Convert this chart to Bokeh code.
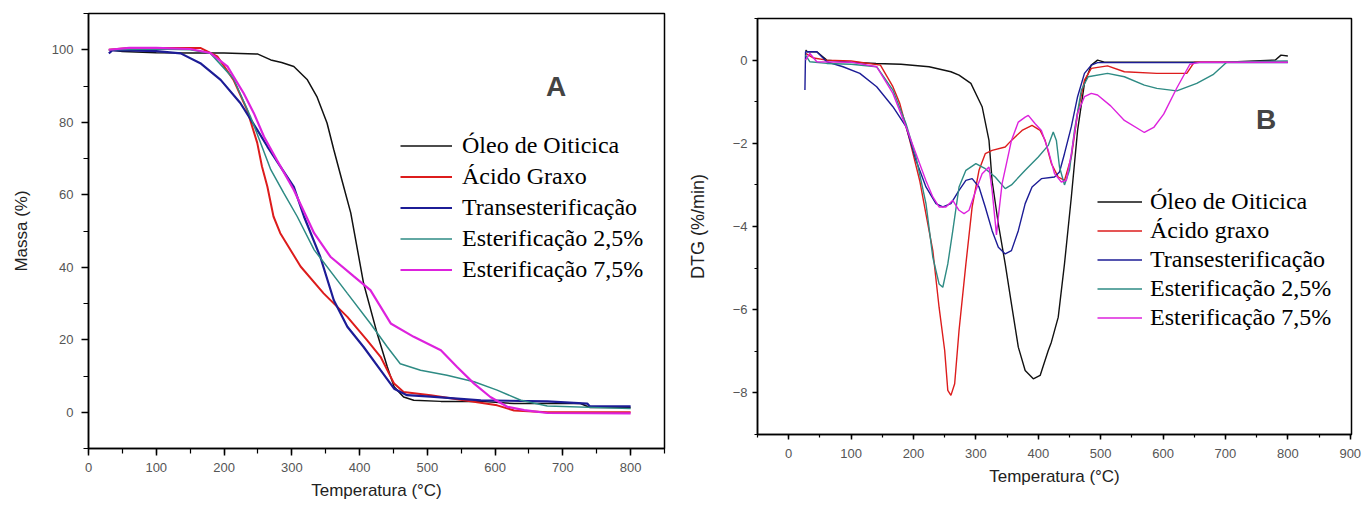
from bokeh.plotting import figure
from bokeh.models import Legend, LegendItem, Label, SingleIntervalTicker, Title
from bokeh.layouts import row, column
from bokeh.embed import file_html
from bokeh.resources import INLINE

# ---------------- Panel A: TG (Massa %) ----------------
a_oleo_t = [30, 50, 100, 150, 200, 250, 269, 285, 303, 323, 337, 352, 362, 374, 387, 406, 426, 441, 451, 465, 480, 520, 579, 628, 726, 740, 800]
a_oleo_m = [100, 99.5, 99.2, 99.1, 99.1, 98.8, 97.2, 96.5, 95.4, 91.7, 87.1, 79.8, 72.4, 64, 55, 35.5, 21.7, 12.5, 7, 4.2, 3.3, 3.0, 3.0, 2.4, 2.4, 1.3, 1.3]

a_acido_t = [30, 60, 100, 165, 190, 214, 234, 249, 256, 264, 273, 283, 313, 347, 382, 411, 431, 451, 465, 505, 554, 603, 628, 677, 800]
a_acido_m = [100, 100.5, 100.5, 100.5, 98.2, 91.7, 83.4, 74.3, 67.8, 62.2, 54, 49.4, 40.2, 32.8, 26.3, 19.9, 15.3, 7.9, 5.6, 4.7, 3.3, 1.9, 0.5, 0.0, 0.0]

a_trans_t = [30, 35, 60, 100, 136, 165, 195, 224, 249, 264, 283, 303, 318, 342, 362, 382, 406, 431, 451, 470, 505, 579, 677, 736, 740, 800]
a_trans_m = [99, 99.8, 99.8, 99.6, 99, 96.3, 91.7, 85.3, 77.9, 73.3, 67.8, 62.2, 54, 42.9, 30.9, 23.6, 18, 11.6, 6.5, 4.7, 4.3, 3.3, 3.0, 2.4, 1.6, 1.6]

a_est25_t = [30, 100, 150, 180, 214, 239, 254, 269, 288, 308, 333, 382, 416, 441, 460, 490, 529, 569, 603, 638, 677, 800]
a_est25_m = [100, 100.2, 100, 99, 92, 81.6, 74.3, 66.9, 60.5, 54, 44.8, 32.8, 24.5, 18, 13.4, 11.6, 10.2, 8.4, 6.1, 3.3, 1.7, 1.0]

a_est75_t = [30, 60, 100, 150, 180, 205, 229, 244, 259, 278, 303, 333, 357, 392, 416, 446, 480, 520, 544, 569, 593, 618, 643, 677, 800]
a_est75_m = [100, 100.5, 100.5, 100.2, 99.1, 95.4, 88, 82.5, 76, 69.6, 61.3, 49.4, 42.9, 37.4, 33.7, 24.5, 20.8, 17.1, 12.5, 7.9, 4.2, 1.5, 0.6, -0.2, -0.3]

# ---------------- Panel B: DTG (%/min) ----------------
b_oleo_t = [27, 30, 45, 61, 100, 140, 180, 225, 260, 273, 292, 310, 321, 326, 336, 347, 357, 368, 379, 392, 403, 416, 421, 432, 442, 453, 463, 474, 485, 495, 506, 600, 700, 780, 789, 800]
b_oleo_v = [0.24, 0.2, 0.2, 0.0, -0.05, -0.08, -0.1, -0.16, -0.28, -0.36, -0.56, -1.12, -1.93, -2.9, -3.94, -4.9, -5.86, -6.9, -7.46, -7.66, -7.58, -6.98, -6.78, -6.18, -4.9, -3.29, -1.69, -0.56, -0.12, 0.0, -0.05, -0.05, -0.05, 0.0, 0.12, 0.1]

b_acido_t = [27, 40, 61, 100, 147, 167, 178, 194, 210, 220, 231, 241, 250, 255, 260, 266, 273, 284, 294, 305, 315, 326, 347, 357, 374, 390, 403, 411, 421, 432, 442, 453, 463, 474, 485, 511, 538, 590, 638, 650, 700, 800]
b_acido_v = [0.16, 0.05, 0.0, -0.02, -0.12, -0.64, -1.04, -1.93, -2.9, -3.7, -4.58, -5.94, -6.98, -7.94, -8.06, -7.78, -6.5, -4.9, -3.53, -2.65, -2.25, -2.17, -2.09, -1.93, -1.69, -1.57, -1.69, -1.93, -2.49, -2.81, -2.89, -2.33, -1.28, -0.48, -0.2, -0.14, -0.28, -0.32, -0.32, -0.05, -0.05, -0.05]

b_trans_t = [26, 27, 30, 45, 61, 87, 114, 141, 167, 188, 204, 220, 236, 247, 260, 273, 284, 294, 305, 315, 326, 336, 347, 357, 368, 379, 390, 405, 426, 434, 442, 453, 463, 474, 485, 495, 600, 700, 800]
b_trans_v = [-0.72, 0.2, 0.2, 0.2, -0.04, -0.16, -0.32, -0.64, -1.12, -1.6, -2.41, -3.05, -3.45, -3.53, -3.45, -3.13, -2.89, -2.85, -3.05, -3.53, -4.1, -4.5, -4.66, -4.58, -4.1, -3.45, -3.05, -2.85, -2.81, -2.69, -2.25, -1.6, -0.88, -0.32, -0.12, -0.06, -0.06, -0.06, -0.06]

b_est25_t = [27, 34, 61, 100, 141, 167, 188, 204, 220, 231, 241, 247, 255, 263, 273, 284, 300, 315, 331, 347, 357, 379, 400, 416, 424, 429, 434, 442, 450, 458, 469, 480, 511, 538, 570, 590, 622, 654, 680, 702, 800]
b_est25_v = [0.12, -0.04, -0.08, -0.1, -0.16, -0.72, -1.53, -2.33, -3.45, -4.74, -5.38, -5.46, -4.9, -4.1, -3.05, -2.65, -2.49, -2.61, -2.81, -3.09, -3.0, -2.65, -2.33, -2.05, -1.73, -1.93, -2.57, -3.0, -2.65, -1.69, -0.72, -0.4, -0.32, -0.4, -0.6, -0.68, -0.74, -0.56, -0.35, -0.05, -0.02]

b_est75_t = [27, 34, 45, 100, 141, 167, 188, 204, 220, 231, 241, 252, 263, 273, 281, 289, 300, 310, 321, 326, 333, 336, 342, 349, 357, 368, 379, 384, 395, 405, 416, 426, 437, 445, 453, 463, 474, 485, 495, 516, 538, 570, 585, 601, 622, 643, 660, 800]
b_est75_v = [0.0, 0.16, -0.04, -0.05, -0.16, -0.8, -1.6, -2.25, -2.9, -3.29, -3.53, -3.53, -3.37, -3.61, -3.69, -3.61, -3.13, -2.73, -2.57, -3.13, -4.2, -3.77, -2.97, -2.49, -1.93, -1.49, -1.37, -1.33, -1.53, -1.69, -2.17, -2.73, -2.93, -2.89, -2.25, -1.28, -0.88, -0.8, -0.84, -1.1, -1.45, -1.74, -1.62, -1.3, -0.67, -0.1, -0.05, -0.05]

labels_a = ["Óleo de Oiticica", "Ácido Graxo", "Transesterificação", "Esterificação 2,5%", "Esterificação 7,5%"]
labels_b = ["Óleo de Oiticica", "Ácido graxo", "Transesterificação", "Esterificação 2,5%", "Esterificação 7,5%"]
colors = ["#111111", "#dd1c1c", "#1c1c96", "#2e8b84", "#dd22dd"]
x_title = "Temperatura (°C)"

SANS = "Liberation Sans"
SERIF = "Liberation Serif"


def style_axes(p, tick_out, label_standoff_x, label_standoff_y, ax_lab_y, lab_size):
    for ax in (p.xaxis[0], p.yaxis[0]):
        ax.axis_line_width = 1.5
        ax.axis_line_color = "black"
        ax.major_tick_line_color = "black"
        ax.minor_tick_line_color = "black"
        ax.major_tick_line_width = 1.5
        ax.minor_tick_line_width = 1.2
        ax.major_tick_in = 0
        ax.major_tick_out = tick_out
        ax.minor_tick_in = 0
        ax.minor_tick_out = tick_out - 2
        ax.major_label_text_font = SANS
        ax.major_label_text_font_size = "13px"
        ax.major_label_text_color = "#555555"
        ax.axis_label_text_font = SANS
        ax.axis_label_text_font_style = "normal"
        ax.axis_label_text_font_size = lab_size
        ax.axis_label_text_color = "#222222"
    p.xaxis[0].major_label_standoff = label_standoff_x
    p.yaxis[0].major_label_standoff = label_standoff_y
    p.yaxis[0].axis_label_standoff = ax_lab_y
    p.xgrid.visible = False
    p.ygrid.visible = False
    p.outline_line_color = "black"
    p.outline_line_width = 1.5


def bottom_title(p, standoff):
    t = Title(text=x_title, align="center", vertical_align="bottom", text_baseline="middle",
              text_font=SANS, text_font_size="17px",
              text_font_style="normal", text_color="#222222", standoff=standoff)
    p.add_layout(t, "below")


# ---------- Figure A ----------
pa = figure(width=680, height=511, x_range=(0, 850), y_range=(-10, 110),
            output_backend="svg", toolbar_location=None,
            min_border_left=88, min_border_right=16, min_border_top=13, min_border_bottom=63,
            y_axis_label="Massa (%)")
pa.xaxis[0].ticker = SingleIntervalTicker(interval=100, num_minor_ticks=2)
pa.yaxis[0].ticker = SingleIntervalTicker(interval=20, num_minor_ticks=2)
style_axes(pa, 7, 7, 8, 18, "17px")
bottom_title(pa, 9)

series_a = [(a_oleo_t, a_oleo_m), (a_acido_t, a_acido_m), (a_trans_t, a_trans_m),
            (a_est25_t, a_est25_m), (a_est75_t, a_est75_m)]
widths_a = [1.5, 2.0, 2.2, 1.5, 2.2]
items_a = []
for (t, m), c, w, lab in zip(series_a, colors, widths_a, labels_a):
    r = pa.line(t, m, line_color=c, line_width=w)
    items_a.append(LegendItem(label=lab, renderers=[r]))

leg_a = Legend(items=items_a, location=(312, 165), padding=0, margin=0,
               border_line_alpha=0, background_fill_alpha=0,
               glyph_width=52, glyph_height=27, label_height=27, label_standoff=10, spacing=4,
               label_text_font=SERIF, label_text_font_size="24px", label_text_color="black")
pa.add_layout(leg_a)
pa.add_layout(Label(x=690, y=90, text="A", text_font=SANS, text_font_style="bold",
                    text_font_size="28px", text_align="center", text_baseline="middle"))

# ---------- Figure B ----------
pb = figure(width=683, height=511, x_range=(-50, 902), y_range=(-9, 1),
            output_backend="svg", toolbar_location=None,
            min_border_left=77, min_border_right=12, min_border_top=18, min_border_bottom=77,
            y_axis_label="DTG (%/min)")
pb.xaxis[0].ticker = SingleIntervalTicker(interval=100, num_minor_ticks=2)
pb.yaxis[0].ticker = SingleIntervalTicker(interval=2, num_minor_ticks=2)
style_axes(pb, 5, 9, 5, 22, "18px")
bottom_title(pb, 9)

series_b = [(b_oleo_t, b_oleo_v), (b_acido_t, b_acido_v), (b_trans_t, b_trans_v),
            (b_est25_t, b_est25_v), (b_est75_t, b_est75_v)]
items_b = []
for (t, v), c, lab in zip(series_b, colors, labels_b):
    r = pb.line(t, v, line_color=c, line_width=1.4)
    items_b.append(LegendItem(label=lab, renderers=[r]))

leg_b = Legend(items=items_b, location=(340, 103), padding=0, margin=0,
               border_line_alpha=0, background_fill_alpha=0,
               glyph_width=45, glyph_height=27, label_height=27, label_standoff=8, spacing=2,
               label_text_font=SERIF, label_text_font_size="24px", label_text_color="black")
pb.add_layout(leg_b)
pb.add_layout(Label(x=765, y=-1.42, text="B", text_font=SANS, text_font_style="bold",
                    text_font_size="28px", text_align="center", text_baseline="middle"))

layout = row(column(pa), column(pb))
open("out.html", "w").write(file_html(layout, INLINE))
